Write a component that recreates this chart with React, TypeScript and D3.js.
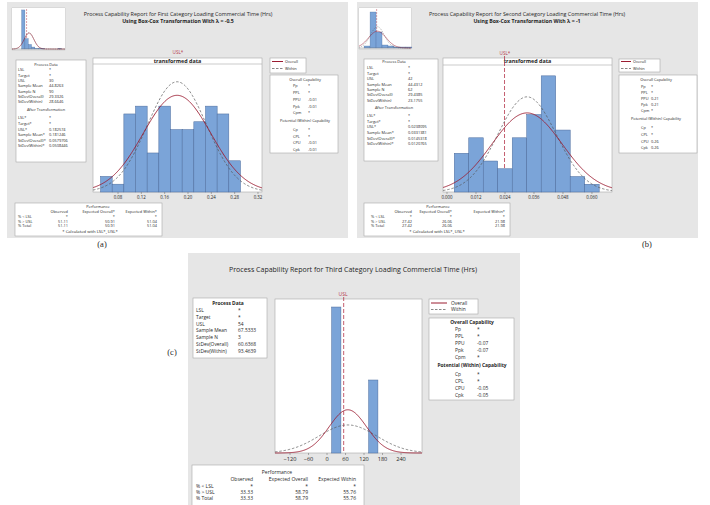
import React from 'react';
import * as d3 from 'd3';

// ---------- (a) first category, Box-Cox lambda = -0.5 ----------
const edgesA = [0.05, 0.07, 0.09, 0.11, 0.13, 0.15, 0.17, 0.19, 0.21, 0.23, 0.25, 0.27, 0.29];
const countsA = [2, 1, 10, 11, 5, 11, 8, 8, 9, 11, 10, 4];
const ticksA = [0.08, 0.12, 0.16, 0.2, 0.24, 0.28, 0.32];
const fitA = [0.181246, 0.0579706, 0.0508446]; // mean*, sd overall*, sd within*
const uslA = 0.182574;
const thumbEdgesA = [0, 20, 40, 60, 80, 100, 120, 140, 160, 180, 200, 220, 240, 260];
const thumbCountsA = [60, 16, 7, 3, 1, 1, 1, 0, 0, 0, 0, 1, 0];
const thumbFitA = [44.8263, 29.3326, 28.6646];
const processA = [['LSL', '*'], ['Target', '*'], ['USL', '30'], ['Sample Mean', '44.8263'], ['Sample N', '90'], ['StDev(Overall)', '29.3326'], ['StDev(Within)', '28.6646']];
const afterA = [['LSL*', '*'], ['Target*', '*'], ['USL*', '0.182574'], ['Sample Mean*', '0.181246'], ['StDev(Overall)*', '0.0579706'], ['StDev(Within)*', '0.0508446']];
const overallCapA = [['Pp', '*'], ['PPL', '*'], ['PPU', '-0.01'], ['Ppk', '-0.01'], ['Cpm', '*']];
const withinCapA = [['Cp', '*'], ['CPL', '*'], ['CPU', '-0.01'], ['Cpk', '-0.01']];
const perfA = [['% < LSL', '*', '*', '*'], ['% > USL', '51.11', '50.91', '51.04'], ['% Total', '51.11', '50.91', '51.04']];

// ---------- (b) second category, Box-Cox lambda = -1 ----------
const edgesB = [0.003, 0.009, 0.015, 0.021, 0.027, 0.033, 0.039, 0.045, 0.051, 0.057, 0.063];
const countsB = [5, 7, 4, 3, 7, 10, 15, 8, 2, 1];
const ticksB = [0, 0.012, 0.024, 0.036, 0.048, 0.06];
const fitB = [0.0331381, 0.0145318, 0.0120765];
const uslB = 0.0238095;
const thumbEdgesB = [0, 20, 40, 60, 80, 100, 120, 140, 160];
const thumbCountsB = [2, 36, 16, 3, 2, 1, 1, 1];
const thumbFitB = [44.4312, 29.4385, 23.1755];
const processB = [['LSL', '*'], ['Target', '*'], ['USL', '42'], ['Sample Mean', '44.4312'], ['Sample N', '62'], ['StDev(Overall)', '29.4385'], ['StDev(Within)', '23.1755']];
const afterB = [['LSL*', '*'], ['Target*', '*'], ['USL*', '0.0238095'], ['Sample Mean*', '0.0331381'], ['StDev(Overall)*', '0.0145318'], ['StDev(Within)*', '0.0120765']];
const overallCapB = [['Pp', '*'], ['PPL', '*'], ['PPU', '0.21'], ['Ppk', '0.21'], ['Cpm', '*']];
const withinCapB = [['Cp', '*'], ['CPL', '*'], ['CPU', '0.26'], ['Cpk', '0.26']];
const perfB = [['% < LSL', '*', '*', '*'], ['% > USL', '27.42', '26.06', '21.98'], ['% Total', '27.42', '26.06', '21.98']];

// ---------- (c) third category, raw data ----------
const edgesC = [15, 45, 75, 105, 135, 165];
const countsC = [2, 0, 0, 0, 1];
const ticksC = [-120, -60, 0, 60, 120, 180, 240];
const fitC = [67.5333, 60.6368, 93.4639];
const uslC = 54;
const processC = [['LSL', '*'], ['Target', '*'], ['USL', '54'], ['Sample Mean', '67.5333'], ['Sample N', '3'], ['StDev(Overall)', '60.6368'], ['StDev(Within)', '93.4639']];
const overallCapC = [['Pp', '*'], ['PPL', '*'], ['PPU', '-0.07'], ['Ppk', '-0.07'], ['Cpm', '*']];
const withinCapC = [['Cp', '*'], ['CPL', '*'], ['CPU', '-0.05'], ['Cpk', '-0.05']];
const perfC = [['% < LSL', '*', '*', '*'], ['% > USL', '33.33', '58.79', '55.76'], ['% Total', '33.33', '58.79', '55.76']];

const FONT = "'Open Sans', 'Noto Sans', sans-serif";
const INK = '#1f1f1f';
const PANEL_BG = '#e6e6e6';
const BOX_LINE = '#a9a9a9';
const BAR_FILL = '#7ba4d8';
const BAR_LINE = '#4a6a9c';
const OVERALL = '#9b1c31';
const WITHIN = '#555';
const USL_RED = '#b5364a';

const pdf = (v: number, m: number, s: number) =>
  Math.exp(-0.5 * ((v - m) / s) ** 2) / (s * Math.sqrt(2 * Math.PI));

const Txt = ({ x, y, fs, anchor = 'start', bold = false, fill = INK, family, children }: any) => (
  <text x={x} y={y + fs * 0.36} fontSize={fs} textAnchor={anchor} fontWeight={bold ? 700 : 400} fill={fill} fontFamily={family}>
    {children}
  </text>
);

const Box = ({ b }: any) => <rect x={b[0]} y={b[1]} width={b[2]} height={b[3]} fill="#fff" stroke={BOX_LINE} strokeWidth={0.6} />;

const Pairs = ({ rows, lx, vx, top, step, fs }: any) => (
  <>
    {rows.map((r: string[], i: number) => (
      <React.Fragment key={r[0]}>
        <Txt x={lx} y={top + i * step} fs={fs}>{r[0]}</Txt>
        <Txt x={vx} y={top + i * step} fs={fs}>{r[1]}</Txt>
      </React.Fragment>
    ))}
  </>
);

function Histo({ x0, y0, w, h, head = 0, xDomain, yMax, edges, counts, fit, usl, uslTop, ticks, fmt, tickFs, header, headFs, frame = true }: any) {
  const x = d3.scaleLinear().domain(xDomain).range([x0, x0 + w]);
  const y = d3.scaleLinear().domain([0, yMax]).range([y0 + h, y0 + head]);
  const n = d3.sum(counts);
  const bw = edges[1] - edges[0];
  const grid = d3.range(0, 241).map((i) => xDomain[0] + ((xDomain[1] - xDomain[0]) * i) / 240);
  const curve = (sd: number) =>
    d3.line<number>().x((v) => x(v)).y((v) => Math.max(y0 + head, y(n * bw * pdf(v, fit[0], sd))))(grid) || '';
  const sw = frame ? 1 : 0.6;
  return (
    <g>
      <rect x={x0} y={y0} width={w} height={h} fill="#fff" stroke={frame ? BOX_LINE : 'none'} strokeWidth={0.6} />
      {header && (
        <>
          <line x1={x0} x2={x0 + w} y1={y0 + head} y2={y0 + head} stroke={BOX_LINE} strokeWidth={0.6} />
          <Txt x={x0 + w / 2} y={y0 + head / 2} fs={headFs} anchor="middle" bold>{header}</Txt>
        </>
      )}
      {usl !== undefined && (
        <line x1={x(usl)} x2={x(usl)} y1={uslTop} y2={y0 + h} stroke={USL_RED} strokeWidth={0.8 * sw} strokeDasharray={frame ? '4 2' : '2 1'} />
      )}
      {counts.map((c: number, i: number) => (
        <rect key={i} x={x(edges[i])} width={x(edges[i + 1]) - x(edges[i])} y={y(c)} height={y(0) - y(c)}
          fill={BAR_FILL} stroke={c > 0 ? BAR_LINE : 'none'} strokeWidth={0.5 * sw} />
      ))}
      <path d={curve(fit[2])} fill="none" stroke={WITHIN} strokeWidth={0.7 * sw} strokeDasharray={frame ? '2.5 1.8' : '1.2 1'} />
      <path d={curve(fit[1])} fill="none" stroke={OVERALL} strokeWidth={0.9 * sw} />
      {ticks && ticks.map((t: number) => (
        <g key={t}>
          <line x1={x(t)} x2={x(t)} y1={y0 + h} y2={y0 + h + 2} stroke="#666" strokeWidth={0.5} />
          <Txt x={x(t)} y={y0 + h + 2.5 + tickFs * 0.6} fs={tickFs} anchor="middle">{fmt(t)}</Txt>
        </g>
      ))}
    </g>
  );
}

const Legend = ({ L, fs }: any) => (
  <g>
    <Box b={L.box} />
    <line x1={L.x1} x2={L.x2} y1={L.y1} y2={L.y1} stroke={OVERALL} strokeWidth={1} />
    <line x1={L.x1} x2={L.x2} y1={L.y2} y2={L.y2} stroke={WITHIN} strokeWidth={0.7} strokeDasharray="2.5 1.5" />
    <Txt x={L.tx} y={L.y1} fs={fs}>Overall</Txt>
    <Txt x={L.tx} y={L.y2} fs={fs}>Within</Txt>
  </g>
);

const CapBox = ({ C, fs, overall, within }: any) => (
  <g>
    <Box b={C.box} />
    <Txt x={C.tx} y={C.ty} fs={fs} anchor="middle" bold={C.bold}>Overall Capability</Txt>
    <Pairs rows={overall} lx={C.lx} vx={C.vx} top={C.top} step={C.step} fs={fs} />
    <Txt x={C.tx} y={C.subY} fs={fs} anchor="middle" bold={C.bold}>Potential (Within) Capability</Txt>
    <Pairs rows={within} lx={C.lx} vx={C.vx} top={C.subTop} step={C.subStep} fs={fs} />
  </g>
);

const PerfBox = ({ P, fs, rows, star }: any) => (
  <g>
    <Box b={P.box} />
    <Txt x={P.px} y={P.py} fs={fs} anchor="middle">Performance</Txt>
    {['Observed', 'Expected Overall' + star, 'Expected Within' + star].map((s, i) => (
      <Txt key={s} x={P.cols[i]} y={P.hy} fs={fs} anchor="end">{s}</Txt>
    ))}
    {rows.map((r: string[], j: number) => (
      <g key={r[0]}>
        <Txt x={P.lx} y={P.rows[j]} fs={fs}>{r[0]}</Txt>
        {r.slice(1).map((v, i) => (
          <Txt key={i} x={P.cols[i]} y={P.rows[j]} fs={fs} anchor="end">{v}</Txt>
        ))}
      </g>
    ))}
    {P.note && <Txt x={P.nx} y={P.ny} fs={fs * 1.08} anchor="middle">{P.note}</Txt>}
  </g>
);

function TransformedPanel({ L, d }: any) {
  const fs = 3.9;
  return (
    <g>
      <rect x={L.bg[0]} y={L.bg[1]} width={L.bg[2]} height={L.bg[3]} fill={PANEL_BG} />
      <rect x={L.thumb[0]} y={L.thumb[1]} width={L.thumb[2]} height={L.thumb[3]} fill="#fff" stroke={BOX_LINE} strokeWidth={0.4} />
      <Histo x0={L.thumb[0]} y0={L.thumb[1]} w={L.thumb[2]} h={L.thumbBase - L.thumb[1]} xDomain={L.thumbDomain} yMax={L.thumbMax}
        edges={d.thumbEdges} counts={d.thumbCounts} fit={d.thumbFit} usl={d.rawUsl} uslTop={L.thumb[1] + 1} frame={false} />
      <line x1={L.thumb[0]} x2={L.thumb[0] + L.thumb[2]} y1={L.thumbBase} y2={L.thumbBase} stroke="#777" strokeWidth={0.4} />
      <Txt x={L.title[0]} y={L.title[1]} fs={5.4} anchor="middle">{d.title}</Txt>
      <Txt x={L.title[0]} y={L.title[2]} fs={5.2} anchor="middle" bold>{d.subtitle}</Txt>
      <Txt x={L.usl[0]} y={L.usl[1]} fs={4.6} anchor="middle" fill={USL_RED}>USL*</Txt>
      <Histo x0={L.hist[0]} y0={L.hist[1]} w={L.hist[2]} h={L.hist[3]} head={L.hist[4]} xDomain={L.domain} yMax={L.yMax}
        edges={d.edges} counts={d.counts} fit={d.fit} usl={L.uslLine ? d.usl : undefined} uslTop={L.usl[1] + 3}
        ticks={d.ticks} fmt={d.fmt} tickFs={4.4} header="transformed data" headFs={5.4} />
      {/* process data */}
      <Box b={L.proc.box} />
      <Txt x={L.proc.tx} y={L.proc.ty} fs={fs} anchor="middle">Process Data</Txt>
      <Pairs rows={d.process} lx={L.proc.lx} vx={L.proc.vx} top={L.proc.top} step={L.proc.step} fs={fs} />
      <Txt x={L.proc.tx} y={L.proc.subY} fs={fs} anchor="middle">After Transformation</Txt>
      <Pairs rows={d.after} lx={L.proc.lx} vx={L.proc.vx} top={L.proc.subTop} step={L.proc.subStep} fs={fs} />
      <Legend L={L.leg} fs={fs} />
      <CapBox C={L.cap} fs={fs} overall={d.overallCap} within={d.withinCap} />
      <PerfBox P={{ ...L.perf, note: '* Calculated with LSL*, USL*' }} fs={fs} rows={d.perf} star="*" />
    </g>
  );
}

const layoutA = {
  bg: [7, 2, 341, 236],
  thumb: [12, 8, 53, 42], thumbBase: 49, thumbDomain: [-58, 262], thumbMax: 63,
  title: [178, 14, 21],
  usl: [178, 52], uslLine: false,
  hist: [93, 58, 169, 134, 6], domain: [0.0371, 0.3269], yMax: 16.4,
  proc: { box: [16, 60, 70, 102], tx: 46, ty: 65, lx: 18, vx: 49, top: 70, step: 5.33, subY: 110, subTop: 118, subStep: 5.6 },
  cap: { box: [270, 75, 68, 78], tx: 305, ty: 80, lx: 293, vx: 308, top: 86, step: 6.7, subY: 121, subTop: 130, subStep: 6.4 },
  leg: { box: [270, 58, 36, 15], x1: 272, x2: 283, tx: 285, y1: 61.5, y2: 68.5 },
  perf: { box: [15, 203, 147, 33], px: 98, py: 207, hy: 212, cols: [68, 115, 157], lx: 18, rows: [216.8, 221.3, 225.8], nx: 90, ny: 231.3 },
};

const layoutB = {
  bg: [357, 2, 341, 236],
  thumb: [359, 8, 52, 41], thumbBase: 48, thumbDomain: [-17, 157], thumbMax: 40,
  title: [527, 14, 21],
  usl: [505, 53], uslLine: true,
  hist: [443, 58, 169, 134, 7], domain: [-0.00166, 0.0683], yMax: 16.4,
  proc: { box: [364, 59, 74, 102], tx: 394, ty: 62, lx: 367, vx: 408, top: 68, step: 5.4, subY: 108, subTop: 115.5, subStep: 5.7 },
  cap: { box: [619, 75, 78, 78], tx: 656, ty: 80, lx: 641, vx: 651, top: 87, step: 5.9, subY: 119, subTop: 128, subStep: 6.6 },
  leg: { box: [619, 59, 41, 13], x1: 621, x2: 631, tx: 633, y1: 61.5, y2: 68.5 },
  perf: { box: [364, 203, 146, 33], px: 438, py: 207, hy: 212, cols: [412, 452, 505], lx: 371, rows: [216.8, 221.3, 225.8], nx: 437, ny: 231.3 },
};

const dataA = {
  title: 'Process Capability Report for First Category Loading Commercial Time (Hrs)',
  subtitle: 'Using Box-Cox Transformation With λ = -0.5',
  edges: edgesA, counts: countsA, ticks: ticksA, fit: fitA, usl: uslA, fmt: d3.format('.2f'),
  thumbEdges: thumbEdgesA, thumbCounts: thumbCountsA, thumbFit: thumbFitA, rawUsl: 30,
  process: processA, after: afterA, overallCap: overallCapA, withinCap: withinCapA, perf: perfA,
};

const dataB = {
  title: 'Process Capability Report for Second Category Loading Commercial Time (Hrs)',
  subtitle: 'Using Box-Cox Transformation With λ = -1',
  edges: edgesB, counts: countsB, ticks: ticksB, fit: fitB, usl: uslB, fmt: d3.format('.3f'),
  thumbEdges: thumbEdgesB, thumbCounts: thumbCountsB, thumbFit: thumbFitB, rawUsl: 42,
  process: processB, after: afterB, overallCap: overallCapB, withinCap: withinCapB, perf: perfB,
};

function PanelC() {
  const fs = 4.9;
  return (
    <g>
      <rect x={188} y={253} width={332} height={252} fill={PANEL_BG} />
      <Txt x={353} y={269} fs={7} anchor="middle">Process Capability Report for Third Category Loading Commercial Time (Hrs)</Txt>
      <Txt x={343} y={294} fs={5} anchor="middle" fill={USL_RED}>USL</Txt>
      <Histo x0={275} y0={299} w={147} h={154} xDomain={[-168.7, 308]} yMax={2.11}
        edges={edgesC} counts={countsC} fit={fitC} usl={uslC} uslTop={297}
        ticks={ticksC} fmt={d3.format('d')} tickFs={5.6} />
      <Box b={[193, 298, 74, 60]} />
      <Txt x={228} y={303} fs={fs} anchor="middle" bold>Process Data</Txt>
      <Pairs rows={processC} lx={196} vx={238} top={310} step={6.9} fs={fs} />
      <Legend L={{ box: [429, 299, 49, 15], x1: 431, x2: 447, tx: 451, y1: 303, y2: 309.5 }} fs={fs} />
      <CapBox C={{ box: [429, 318, 85, 82], tx: 472, ty: 322.5, lx: 455, vx: 477, top: 329, step: 7.1, subY: 365.5, subTop: 374, subStep: 7, bold: true }}
        fs={fs} overall={overallCapC} within={withinCapC} />
      <PerfBox P={{ box: [192, 465, 172, 45], px: 277, py: 472.5, hy: 479, cols: [253, 308, 356], lx: 196, rows: [486.5, 492.5, 498.5] }}
        fs={5} rows={perfC} star="" />
    </g>
  );
}

export default function App() {
  return (
    <svg width={710} height={505} style={{ position: 'absolute', left: 0, top: 0, background: '#fff' }} fontFamily={FONT}>
      <TransformedPanel L={layoutA} d={dataA} />
      <TransformedPanel L={layoutB} d={dataB} />
      <PanelC />
      <Txt x={102} y={244} fs={8.5} anchor="middle" family="'Liberation Serif', serif">(a)</Txt>
      <Txt x={647} y={244} fs={8.5} anchor="middle" family="'Liberation Serif', serif">(b)</Txt>
      <Txt x={172} y={352} fs={8.5} anchor="middle" family="'Liberation Serif', serif">(c)</Txt>
    </svg>
  );
}
